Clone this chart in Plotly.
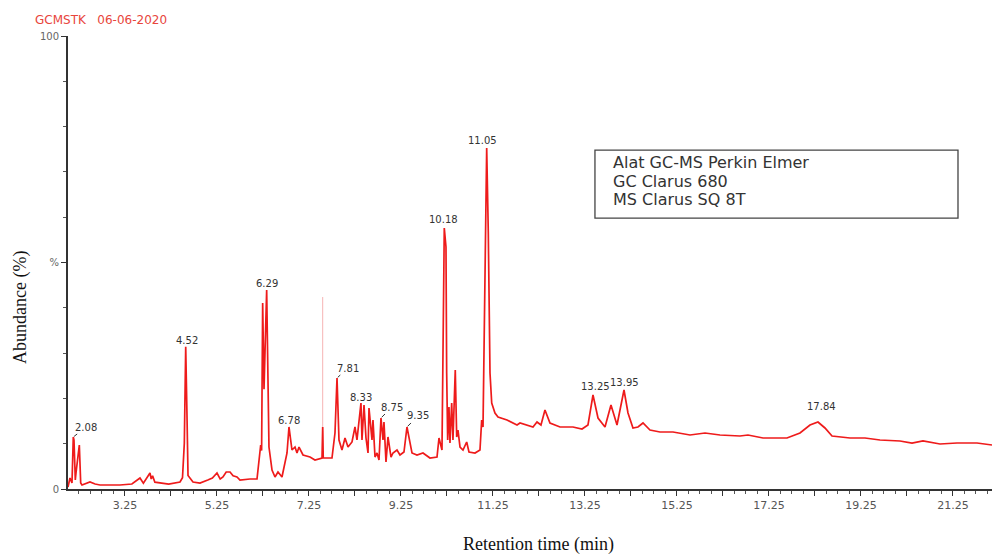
import plotly.graph_objects as go

# ---- data ----
time_min = [
    2.011, 2.054, 2.098, 2.126, 2.141, 2.17, 2.185, 2.257, 2.287, 2.315,
    2.489, 2.6, 2.707, 3.141, 3.4, 3.576, 3.65, 3.793, 3.82, 3.85,
    3.9, 4.011, 4.2, 4.446, 4.5, 4.54, 4.57, 4.6, 4.62, 4.728,
    4.88, 5.05, 5.15, 5.25, 5.32, 5.38, 5.45, 5.533, 5.6, 5.685,
    5.75, 5.967, 6.12, 6.2, 6.22, 6.243, 6.272, 6.33, 6.36, 6.38,
    6.446, 6.511, 6.576, 6.663, 6.772, 6.815, 6.88, 6.946, 6.989, 7.033,
    7.12, 7.272, 7.38, 7.533, 7.548, 7.56, 7.598, 7.75, 7.815, 7.859,
    7.902, 7.967, 8.033, 8.098, 8.185, 8.25, 8.293, 8.337, 8.38, 8.402,
    8.446, 8.489, 8.533, 8.554, 8.62, 8.641, 8.685, 8.728, 8.772, 8.815,
    8.859, 8.88, 8.924, 8.967, 9.033, 9.076, 9.163, 9.228, 9.315, 9.38,
    9.424, 9.489, 9.598, 9.728, 9.88, 10.033, 10.076, 10.141, 10.191, 10.228,
    10.243, 10.265, 10.293, 10.315, 10.352, 10.38, 10.43, 10.461, 10.489, 10.533,
    10.598, 10.678, 10.728, 10.859, 10.967, 11.004, 11.033, 11.076, 11.113, 11.148,
    11.185, 11.222, 11.293, 11.359, 11.554, 11.772, 11.837, 12.12, 12.207, 12.293,
    12.38, 12.489, 12.707, 12.989, 13.185, 13.315, 13.424, 13.533, 13.685, 13.815,
    13.946, 14.098, 14.185, 14.293, 14.402, 14.511, 14.663, 14.88, 15.163, 15.533,
    15.859, 16.185, 16.62, 16.793, 17.12, 17.641, 17.924, 18.141, 18.315, 18.467,
    18.62, 19.011, 19.337, 19.663, 20.098, 20.359, 20.598, 20.967, 21.337, 21.772,
    22.098,
]
abundance = [
    0.44, 2.43, 1.32, 11.48, 10.8, 2.0, 3.53, 9.71, 1.32, 0.88,
    1.55, 1.1, 0.88, 0.88, 1.1, 2.43, 1.3, 3.53, 2.2, 2.9,
    1.5, 1.32, 1.1, 1.55, 2.5, 10.15, 31.41, 15.0, 3.0, 1.55,
    1.32, 2.0, 2.43, 3.53, 2.2, 2.65, 3.75, 3.75, 2.9, 2.65,
    1.99, 2.21, 2.21, 9.71, 8.5, 41.06, 22.0, 43.93, 20.0, 9.27,
    4.19, 2.65, 3.75, 2.65, 7.95, 13.69, 8.61, 9.27, 7.95, 9.27,
    7.51, 7.06, 6.40, 6.84, 13.69, 6.84, 6.84, 6.84, 12.36, 24.50,
    10.82, 8.61, 11.26, 9.27, 10.38, 13.69, 10.82, 15.89, 18.98, 10.82,
    18.54, 11.26, 7.95, 17.88, 10.82, 15.23, 7.06, 7.95, 6.40, 15.67,
    10.82, 14.79, 5.96, 11.48, 7.06, 7.95, 8.61, 7.51, 8.17, 13.69,
    11.48, 7.95, 7.51, 7.95, 6.84, 7.06, 11.26, 8.61, 57.62, 53.42,
    25.61, 10.82, 18.10, 10.15, 18.98, 10.82, 26.27, 11.48, 13.0, 9.27,
    8.61, 10.38, 8.17, 7.95, 8.61, 15.23, 13.69, 54.97, 75.28, 56.51,
    25.61, 18.98, 16.78, 15.89, 15.23, 14.13, 14.57, 13.69, 14.79, 14.13,
    17.44, 14.57, 13.69, 13.69, 13.25, 14.13, 20.75, 15.67, 13.69, 18.54,
    14.13, 21.85, 16.78, 13.47, 13.69, 14.57, 13.02, 12.58, 12.58, 11.92,
    12.36, 11.92, 11.70, 11.92, 11.26, 11.26, 12.36, 14.13, 14.79, 13.47,
    11.70, 11.26, 11.26, 10.82, 10.60, 10.15, 10.60, 9.93, 10.15, 10.15,
    9.71,
]

# faint vertical artefact near 7.5 min
artifact_time = [7.548, 7.548]
artifact_abund = [6.84, 42.38]

# labelled peaks
peak_labels = ["2.08", "4.52", "6.29", "6.78", "7.81", "8.33", "8.75",
               "9.35", "10.18", "11.05", "13.25", "13.95", "17.84"]
peak_time = [2.126, 4.57, 6.33, 6.815, 7.859, 8.38, 8.815,
             9.38, 10.191, 11.113, 13.424, 14.098, 18.315]
peak_abund = [11.48, 31.41, 43.93, 13.69, 24.50, 18.98, 15.67,
              13.69, 57.62, 75.28, 20.75, 21.85, 14.79]

x_tick_vals = [3.25, 4.25, 5.25, 6.25, 7.25, 8.25, 9.25, 10.25, 11.25, 12.25,
               13.25, 14.25, 15.25, 16.25, 17.25, 18.25, 19.25, 20.25, 21.25]
x_tick_text = ["3.25", "", "5.25", "", "7.25", "", "9.25", "", "11.25", "",
               "13.25", "", "15.25", "", "17.25", "", "19.25", "", "21.25"]
y_tick_vals = [0, 50, 100]
y_tick_text = ["0", "%", "100"]

title_text = "GCMSTK\u00a0\u00a0\u00a006-06-2020"
info_lines = ["Alat GC-MS Perkin Elmer", "GC Clarus 680", "MS Clarus SQ 8T"]
x_title = "Retention time (min)"
y_title = "Abundance (%)"

# ---- figure ----
fig = go.Figure()
fig.add_trace(go.Scatter(x=artifact_time, y=artifact_abund, mode="lines",
                         line=dict(color="#f6b3b3", width=1), hoverinfo="skip",
                         showlegend=False))
fig.add_trace(go.Scatter(x=time_min, y=abundance, mode="lines",
                         line=dict(color="#ee1b1b", width=1.7),
                         showlegend=False))

# label offsets (screen px: dx right, dy down) and whether a leader line is drawn
label_offsets = [(13, -10, True), (1, -6, False), (0, -7, False), (0, -6, False),
                 (11, -10, True), (0, -6, False), (11, -11, True), (11, -11, True),
                 (-1, -8, False), (-4, -7, False), (2, -9, False), (0, -8, False),
                 (4, -16, False)]
annotations = []
for txt, t, a, (dx, dy, lead) in zip(peak_labels, peak_time, peak_abund, label_offsets):
    if lead:
        annotations.append(dict(x=t, y=a, xref="x", yref="y", text=txt,
                                showarrow=True, arrowhead=0, arrowwidth=1,
                                arrowcolor="#333333", ax=dx, ay=dy, standoff=1,
                                font=dict(family="DejaVu Sans", size=10, color="#333333")))
    else:
        annotations.append(dict(x=t, y=a, xref="x", yref="y", text=txt,
                                showarrow=False, xshift=dx, yshift=-dy,
                                xanchor="center", yanchor="middle",
                                font=dict(family="DejaVu Sans", size=10, color="#333333")))

# header
annotations.append(dict(x=-0.0379, y=1.035, xref="paper", yref="paper",
                        text=title_text, showarrow=False, xanchor="left",
                        yanchor="middle",
                        font=dict(family="DejaVu Sans", size=12, color="#e8453c")))
# info box text
for i, line in enumerate(info_lines):
    annotations.append(dict(x=0.5887, y=0.7209 - i * 0.041, xref="paper", yref="paper",
                            text=line, showarrow=False, xanchor="left",
                            yanchor="middle", borderpad=0,
                            font=dict(family="DejaVu Sans", size=16, color="#333333")))
# axis titles
annotations.append(dict(x=0.5087, y=-0.1236, xref="paper", yref="paper",
                        text=x_title, showarrow=False, xanchor="center",
                        yanchor="middle",
                        font=dict(family="Liberation Serif", size=18, color="#111111")))
annotations.append(dict(x=-0.0509, y=0.4018, xref="paper", yref="paper",
                        text=y_title, showarrow=False, textangle=-90,
                        xanchor="center", yanchor="middle",
                        font=dict(family="Liberation Serif", size=18, color="#111111")))

fig.update_layout(
    width=992, height=554,
    margin=dict(l=68, r=0, t=36, b=65),
    paper_bgcolor="white", plot_bgcolor="white",
    annotations=annotations,
    shapes=[dict(type="rect", xref="paper", yref="paper",
                 x0=0.5703, x1=0.9632, y0=0.598, y1=0.748,
                 line=dict(color="#444444", width=1.3), fillcolor="rgba(0,0,0,0)")],
    xaxis=dict(range=[2.011, 22.098], showgrid=False, zeroline=False,
               showline=True, linecolor="#333333", linewidth=1.5,
               tickmode="array", tickvals=x_tick_vals, ticktext=x_tick_text,
               ticks="outside", ticklen=5, tickwidth=1, tickcolor="#333333",
               minor=dict(tickmode="linear", tick0=0.25, dtick=0.25,
                          ticks="outside", ticklen=3, tickcolor="#555555"),
               tickfont=dict(family="DejaVu Sans", size=11, color="#555555")),
    yaxis=dict(range=[0, 100], showgrid=False, zeroline=False,
               showline=True, linecolor="#333333", linewidth=2,
               tickmode="array", tickvals=y_tick_vals, ticktext=y_tick_text,
               ticks="outside", ticklen=5, tickwidth=1, tickcolor="#333333",
               minor=dict(tickmode="linear", tick0=0, dtick=10,
                          ticks="outside", ticklen=3, tickcolor="#555555"),
               tickfont=dict(family="DejaVu Sans", size=10, color="#666666")),
)

fig.write_html("out.html", config={"displayModeBar": False},
               post_script="document.body.style.margin='0';document.body.style.overflow='hidden';")
